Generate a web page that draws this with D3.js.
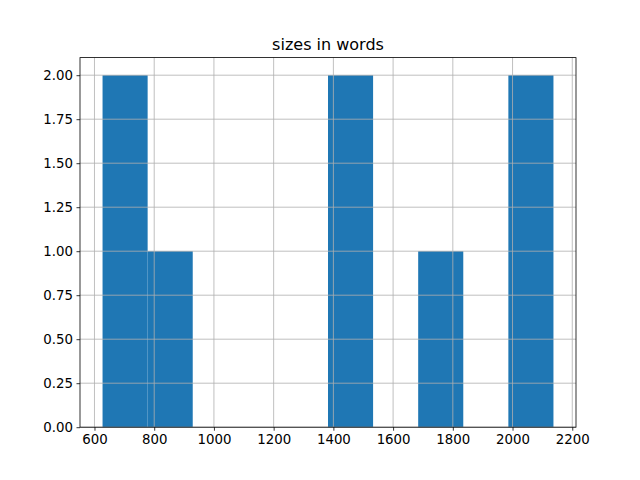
<!DOCTYPE html>
<html><head><meta charset="utf-8">
<script src="https://cdn.jsdelivr.net/npm/d3@7"></script>
<style>body{margin:0;background:#fff}svg{display:block}</style>
</head><body>
<script>
// estimated document sizes in words (8 documents)
const sizes = [627, 720, 860, 1420, 1480, 1760, 2050, 2137];
const nBins = 10;
const yTicks = [0, 0.25, 0.5, 0.75, 1.0, 1.25, 1.5, 1.75, 2.0];
const xTicks = [600, 800, 1000, 1200, 1400, 1600, 1800, 2000, 2200];
const title = "sizes in words";

const W = 640, H = 480;
const m = {left: 80, right: 576, top: 57.6, bottom: 427.2};
const font = "'DejaVu Sans', sans-serif";

const [lo, hi] = d3.extent(sizes);
const step = (hi - lo) / nBins;
const edges = d3.range(nBins + 1).map(i => lo + i * step);
const bins = d3.range(nBins).map(i => {
  const a = edges[i], b = edges[i + 1];
  const c = sizes.filter(v => v >= a && (i === nBins - 1 ? v <= b : v < b)).length;
  return {x0: a, x1: b, count: c};
});
const maxC = d3.max(bins, d => d.count);
const pad = (hi - lo) * 0.05;

const x = d3.scaleLinear().domain([lo - pad, hi + pad]).range([m.left, m.right]);
const y = d3.scaleLinear().domain([0, maxC * 1.05]).range([m.bottom, m.top]);

const svg = d3.select("body").append("svg").attr("width", W).attr("height", H);

svg.append("g").selectAll("rect").data(bins.filter(b => b.count > 0)).join("rect")
  .attr("x", d => x(d.x0)).attr("width", d => x(d.x1) - x(d.x0))
  .attr("y", d => y(d.count)).attr("height", d => y(0) - y(d.count))
  .attr("fill", "#1f77b4");

// grid (drawn above bars)
const grid = svg.append("g").attr("stroke", "#b0b0b0").attr("stroke-width", 0.8);
grid.selectAll(".gx").data(xTicks).join("line")
  .attr("x1", d => x(d)).attr("x2", d => x(d)).attr("y1", m.top).attr("y2", m.bottom);
grid.selectAll(".gy").data(yTicks).join("line")
  .attr("x1", m.left).attr("x2", m.right).attr("y1", d => y(d)).attr("y2", d => y(d));

const xAxis = svg.append("g").attr("transform", `translate(0,${m.bottom})`)
  .call(d3.axisBottom(x).tickValues(xTicks).tickSize(3.5).tickPadding(3.5).tickFormat(d3.format("d")));
const yAxis = svg.append("g").attr("transform", `translate(${m.left},0)`)
  .call(d3.axisLeft(y).tickValues(yTicks).tickSize(3.5).tickPadding(3.5).tickFormat(d3.format(".2f")));
[xAxis, yAxis].forEach(g => {
  g.select(".domain").remove();
  g.selectAll("line").attr("stroke", "#000").attr("stroke-width", 0.8);
  g.selectAll("text").attr("font-family", font).attr("font-size", "13.33px").attr("fill", "#000");
});

svg.append("rect").attr("x", m.left).attr("y", m.top)
  .attr("width", m.right - m.left).attr("height", m.bottom - m.top)
  .attr("fill", "none").attr("stroke", "#000").attr("stroke-width", 0.8);

svg.append("text").attr("x", (m.left + m.right) / 2).attr("y", m.top - 8)
  .attr("text-anchor", "middle").attr("font-family", font).attr("font-size", "16px")
  .text(title);
</script>
</body></html>
